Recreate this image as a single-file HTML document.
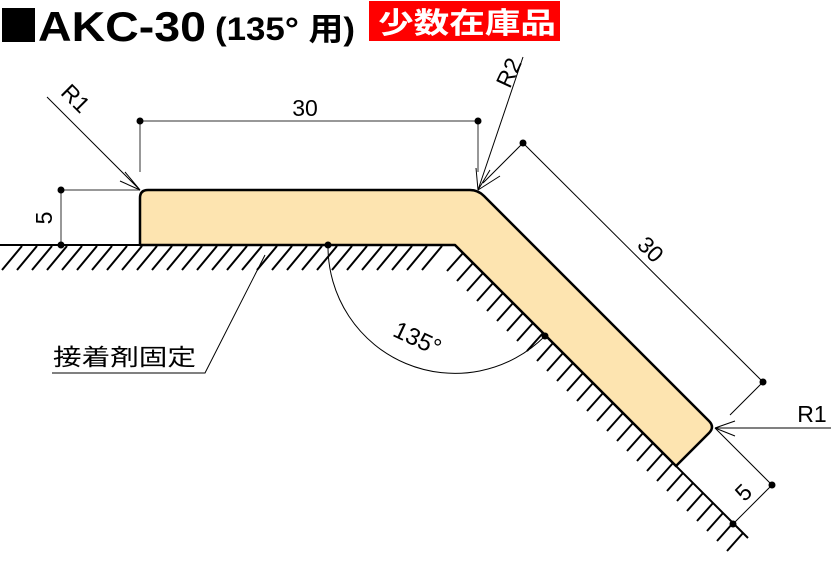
<!DOCTYPE html>
<html><head><meta charset="utf-8"><style>
body{margin:0;background:#fff;width:831px;height:561px;overflow:hidden}
svg{display:block}
text{font-family:"Liberation Sans","Noto Sans CJK JP",sans-serif}
</style></head><body>
<svg width="831" height="561" viewBox="0 0 831 561">
<rect x="2" y="8" width="33" height="34" fill="#000"/>
<text x="38" y="41" font-size="42" font-weight="bold" textLength="168" lengthAdjust="spacingAndGlyphs">AKC-30</text>
<text x="215" y="40" font-size="32" font-weight="bold" textLength="140" lengthAdjust="spacingAndGlyphs">(135° 用)</text>
<rect x="369" y="1" width="191" height="40" fill="#f00"/>
<text x="378" y="33" font-size="29" font-weight="bold" fill="#fff" textLength="178" lengthAdjust="spacingAndGlyphs">少数在庫品</text>

<g stroke="#000" stroke-width="2">
<path d="M22,246 l-20,24 M37,246 l-20,24 M52,246 l-20,24 M67,246 l-20,24 M82,246 l-20,24 M97,246 l-20,24 M112,246 l-20,24 M127,246 l-20,24 M142,246 l-20,24 M157,246 l-20,24 M172,246 l-20,24 M187,246 l-20,24 M202,246 l-20,24 M217,246 l-20,24 M232,246 l-20,24 M247,246 l-20,24 M262,246 l-20,24 M277,246 l-20,24 M292,246 l-20,24 M307,246 l-20,24 M322,246 l-20,24 M337,246 l-20,24 M352,246 l-20,24 M367,246 l-20,24 M382,246 l-20,24 M397,246 l-20,24 M412,246 l-20,24 M427,246 l-20,24 M442,246 l-20,24"/>
<path d="M463,253 l-16,18 M473,263 l-16,18 M483,273 l-16,18 M493,283 l-16,18 M503,293 l-16,18 M513,303 l-16,18 M523,313 l-16,18 M533,323 l-16,18 M543,333 l-16,18 M553,343 l-16,18 M563,353 l-16,18 M573,363 l-16,18 M583,373 l-16,18 M593,383 l-16,18 M603,393 l-16,18 M613,403 l-16,18 M623,413 l-16,18 M633,423 l-16,18 M643,433 l-16,18 M653,443 l-16,18 M663,453 l-16,18 M673,463 l-16,18 M683,473 l-16,18 M693,483 l-16,18 M703,493 l-16,18 M713,503 l-16,18 M723,513 l-16,18 M733,523 l-16,18 M743,533 l-16,18"/>
</g>
<path d="M0,245 H455 L748,538" fill="none" stroke="#000" stroke-width="2"/>

<path d="M140,245 V198 Q140,190 148,190 H470 Q478,190 484,196 L709,421 Q715,427 709,433 L676,466 L455,245 Z" fill="#fde4b0" stroke="#000" stroke-width="2.5" stroke-linejoin="round"/>
<path d="M140,245 L180,245" stroke="#000" stroke-width="1"/>

<g stroke="#777" stroke-width="1.5" fill="none">
<path d="M61,190 V245 M61,190 H140 M140,121 H478 M140,121 V172 M478,121 V172"/>
</g>
<g stroke="#000" stroke-width="1" fill="none">
<path d="M47,97 L140,190 M125,172 L140,190 L120,181"/>
<path d="M523,57 L478,190 M478,190 L476,168 M478,190 L490,170"/>
<path d="M483,183 L523,143 L763,382 L730,415 M478,190 L500,176"/>
<path d="M715,428 H831 M715,428 L735,421 M715,428 L735,436"/>
<path d="M715,428 L772,485 L733,524"/>
<path d="M328,245 A127,127 0 0 0 545,336"/>
<path d="M265,255 L205,373 H52"/>
</g>
<g fill="#000">
<circle cx="61" cy="190" r="3.5"/><circle cx="61" cy="245" r="3.5"/>
<circle cx="140" cy="121" r="3.5"/><circle cx="478" cy="121" r="3.5"/>
<circle cx="523" cy="143" r="3.5"/><circle cx="763" cy="382" r="3.5"/>
<circle cx="772" cy="485" r="3.5"/><circle cx="733" cy="524" r="3.5"/>
<circle cx="328" cy="245" r="3.5"/><circle cx="545" cy="336" r="3.5"/>
</g>
<text x="305" y="116" font-size="23" text-anchor="middle">30</text>
<text transform="translate(52,218) rotate(-90)" font-size="23" text-anchor="middle">5</text>
<text transform="translate(70,104) rotate(45)" font-size="23" text-anchor="middle">R1</text>
<text transform="translate(516,76) rotate(-65)" font-size="23" text-anchor="middle">R2</text>
<text transform="translate(645,255) rotate(45)" font-size="23" text-anchor="middle">30</text>
<text x="812" y="422" font-size="23" text-anchor="middle">R1</text>
<text transform="translate(749,498) rotate(-45)" font-size="23" text-anchor="middle">5</text>
<text transform="translate(414,346) rotate(25)" font-size="24" text-anchor="middle">135°</text>
<text x="53" y="365" font-size="23" textLength="143" lengthAdjust="spacingAndGlyphs">接着剤固定</text>
</svg>
</body></html>
